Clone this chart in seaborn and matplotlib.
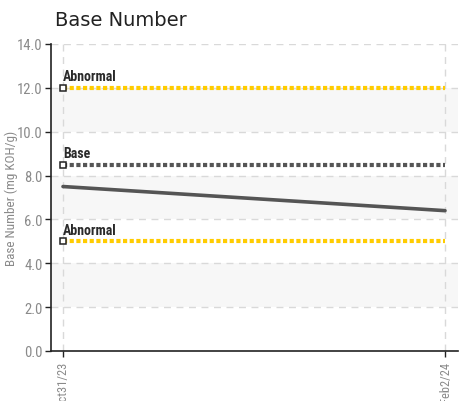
import matplotlib
matplotlib.use("Agg")
import matplotlib.pyplot as plt
import seaborn as sns
import pandas as pd

dates = ["Oct31/23", "Feb2/24"]
values = [7.5, 6.4]
ref_names = ["Abnormal", "Base", "Abnormal"]
ref_values = [12.0, 8.5, 5.0]
ref_colors = ["#FFCC00", "#555555", "#FFCC00"]
yticks = [0.0, 2.0, 4.0, 6.0, 8.0, 10.0, 12.0, 14.0]

sns.set_style("white")
plt.rcParams['font.family'] = ['DejaVu Sans']
cond = dict(family=["Roboto Condensed", "DejaVu Sans"])

fig = plt.figure(figsize=(4.66, 4.02), dpi=100)
ax = fig.add_axes([51/466, 1-352/402, (458-51)/466, (352-45)/402])

df = pd.DataFrame({"x": list(range(len(dates))), "y": values})

for lo in [2, 6, 10]:
    ax.axhspan(lo, lo + 2, color="#f7f7f7", zorder=0, lw=0)

for yv in yticks[1:]:
    ax.axhline(yv, color="#d9d9d9", lw=1, ls=(0, (5, 4)), zorder=1)
for xv in df["x"]:
    ax.axvline(xv, color="#d9d9d9", lw=1, ls=(0, (5, 4)), zorder=1)

sns.lineplot(data=df, x="x", y="y", ax=ax, color="#555555", lw=2.6, zorder=3)

for nm, v, c in zip(ref_names, ref_values, ref_colors):
    ref = pd.DataFrame({"x": [df["x"].iloc[0], df["x"].iloc[-1]], "y": [v, v]})
    sns.lineplot(data=ref, x="x", y="y", ax=ax, color=c, lw=3, ls=(0, (1, 0.6)), zorder=3)
    ax.plot([df["x"].iloc[0]], [v], marker="s", ms=4.5, mfc="white", mec="#222222", mew=1.1, zorder=5, clip_on=False)
    ax.text(df["x"].iloc[0], v + 0.2, nm, fontsize=10, color="#2a2a2a", weight="bold",
            ha="left", va="bottom", zorder=6, **cond)

ax.set_xlim(-12/382, 1 + 13/382)
ax.set_ylim(0, 14)
ax.set_yticks(yticks)
ax.set_yticklabels([f"{t:.1f}" for t in yticks], fontsize=10.5, color="#8a8a8a", **cond)
ax.set_xticks(df["x"])
ax.set_xticklabels(dates, rotation=90, fontsize=9, color="#8a8a8a", **cond)
ax.set_xlabel("")
ax.set_ylabel("Base Number (mg KOH/g)", fontsize=9.5, color="#8a8a8a", **cond)
ax.yaxis.set_label_coords(-33/407, 0.5)

for s in ["top", "right"]:
    ax.spines[s].set_visible(False)
for s in ["left", "bottom"]:
    ax.spines[s].set_color("#222222")
    ax.spines[s].set_linewidth(1.2)
ax.tick_params(axis="y", length=4, width=1, color="#222222", pad=2, left=True)
ax.tick_params(axis="x", length=4, width=1, color="#222222", pad=3, bottom=True)

fig.text(55/466, 1-21/402, "Base Number", fontsize=14, color="#222222", ha="left", va="center")

fig.savefig("out.png", dpi=100)
